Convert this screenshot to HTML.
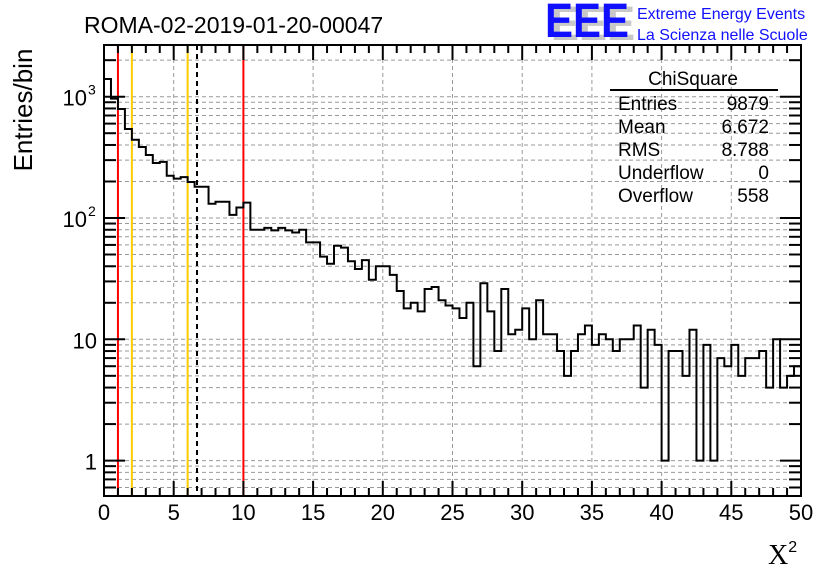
<!DOCTYPE html>
<html><head><meta charset="utf-8"><style>
html,body{margin:0;padding:0;background:#fff;}
svg{display:block;font-family:"Liberation Sans",sans-serif;}
</style></head><body>
<svg id="chart" width="836" height="572" viewBox="0 0 836 572">
<text x="84" y="33" font-size="23">ROMA-02-2019-01-20-00047</text>
<g>
<text x="551" y="40" font-size="48" font-weight="bold" fill="#c8c8c8" textLength="84" lengthAdjust="spacingAndGlyphs">EEE</text>
<text x="545" y="37" font-size="48" font-weight="bold" fill="#1010ff" textLength="84" lengthAdjust="spacingAndGlyphs">EEE</text>
<text x="637" y="19" font-size="16" fill="#1010ff">Extreme Energy Events</text>
<text x="637" y="40" font-size="16" fill="#1010ff">La Scienza nelle Scuole</text>
</g>
<g id="grid"></g>
<g id="vlines"></g>
<path id="hist" fill="none" stroke="#000" stroke-width="2"></path>
<rect x="104" y="45" width="697" height="451" fill="none" stroke="#000" stroke-width="2"></rect>
<g id="ticks"></g>
<g id="labels" font-size="22"></g>
<text transform="translate(32,110) rotate(-90)" text-anchor="middle" font-size="26">Entries/bin</text>
<text x="768" y="564" font-size="28" font-family="Liberation Serif,serif">X<tspan dy="-12" font-size="16" font-family="Liberation Sans,sans-serif">2</tspan></text>
<g font-size="19">
<text x="693" y="85" text-anchor="middle">ChiSquare</text>
<line x1="610" y1="90" x2="778" y2="90" stroke="#000" stroke-width="2"></line>
<text x="618" y="110">Entries</text><text x="769" y="110" text-anchor="end">9879</text>
<text x="618" y="133">Mean</text><text x="769" y="133" text-anchor="end">6.672</text>
<text x="618" y="156">RMS</text><text x="769" y="156" text-anchor="end">8.788</text>
<text x="618" y="179">Underflow</text><text x="769" y="179" text-anchor="end">0</text>
<text x="618" y="202">Overflow</text><text x="769" y="202" text-anchor="end">558</text>
</g>
</svg>
<script>
const binWidth = 0.5;
const counts = [1400,963,792,542,442,385,331,284,290,223,211,217,198,181,181,131,136,136,106,122,
134,80,80,83,79,83,79,76,80,63,63,48,42,59,57,44,38,45,31,40,
40,34,25,18,20,17,26,27,21,19,18,15,20,6,29,17,8,26,11,12,
18,10,21,11,11,8,5,8,11,13,9,11,10,8,10,10,13,4,12,9,
1,8,8,5,12,1,9,1,7,6,9,5,7,7,8,4,10,4,5,6];
const xTicks = [0,5,10,15,20,25,30,35,40,45,50];
const yDecades = [1,10,100,1000];
const yDecadeBase = ["1","10","10","10"];
const yDecadeExp = ["","","2","3"];
const markerValues = [1,2,6,6.672,10];
const markerColors = ["#ff0000","#ffcc00","#ffcc00","#000","#ff0000"];

const NS="http://www.w3.org/2000/svg";
const X0=104,X1=801,Y0=45,Y1=496;
const xs=v=>X0+(v/50)*(X1-X0);
const ys=v=>460.6-121.3*Math.log10(v);
function mk(tag,attrs,parent){const e=document.createElementNS(NS,tag);for(const k in attrs)e.setAttribute(k,attrs[k]);parent.appendChild(e);return e;}
const grid=document.getElementById('grid'),ticks=document.getElementById('ticks'),labels=document.getElementById('labels');
xTicks.forEach(t=>{if(t>0&&t<50){const l=mk('line',{x1:xs(t),x2:xs(t),y1:Y0,y2:Y1,stroke:'#999','stroke-dasharray':'4,3'},grid);

}});
for(let d=0.1;d<=1000;d*=10){for(let m=1;m<=9;m++){const v=Math.round(d*m*1000)/1000;const y=ys(v);if(y<Y0||y>Y1)continue;
const l=mk('line',{x1:X0,x2:X1,y1:y,y2:y,stroke:'#999','stroke-dasharray':'4,3'},grid);


const len=m===1?21:12;
mk('line',{x1:X0,x2:X0+len,y1:y,y2:y,stroke:'#000','stroke-width':2},ticks);
mk('line',{x1:X1,x2:X1-len,y1:y,y2:y,stroke:'#000','stroke-width':2},ticks);}}
for(let t=0;t<=50;t++){const x=xs(t);const len=t%5===0?15:8;
mk('line',{x1:x,x2:x,y1:Y1,y2:Y1-len,stroke:'#000','stroke-width':2},ticks);
mk('line',{x1:x,x2:x,y1:Y0,y2:Y0+len,stroke:'#000','stroke-width':2},ticks);}
xTicks.forEach(t=>{const e=mk('text',{x:xs(t),y:520,'text-anchor':'middle'},labels);e.textContent=t;

});
yDecades.forEach((v,i)=>{const e=mk('text',{x:yDecadeExp[i]?87:97,y:ys(v)+9,'text-anchor':'end'},labels);e.textContent=yDecadeBase[i];


if(yDecadeExp[i]){const s=mk('text',{x:88,y:ys(v)-2,'font-size':14},labels);s.textContent=yDecadeExp[i];

}});
const vl=document.getElementById('vlines');
markerValues.forEach((v,i)=>{const a={x1:xs(v),x2:xs(v),y1:Y0,y2:Y1,stroke:markerColors[i],'stroke-width':2};
if(markerColors[i]==='#000')a['stroke-dasharray']='5,4';
const l=mk('line',a,vl);

});
let d='';
counts.forEach((c,i)=>{const y=ys(Math.max(c,0.5));const xa=xs(i*binWidth),xb=xs((i+1)*binWidth);
d+=(i===0?'M'+xa+','+y:'L'+xa+','+y)+'L'+xb+','+y;});
document.getElementById('hist').setAttribute('d',d);
</script>
</body></html>
